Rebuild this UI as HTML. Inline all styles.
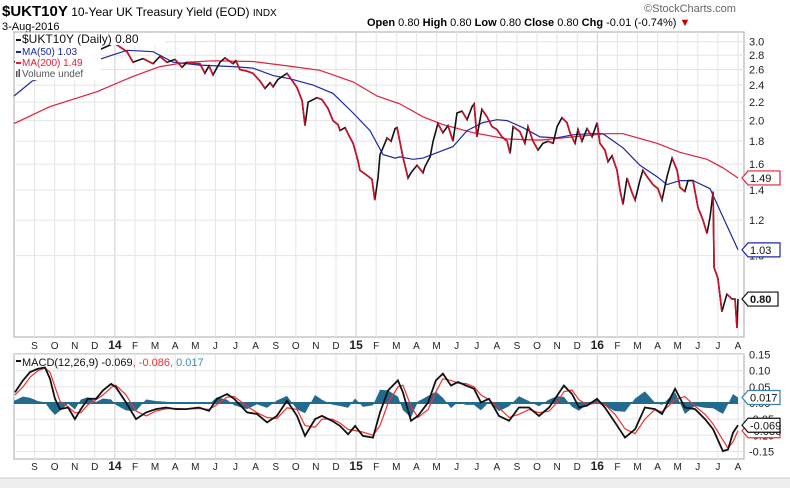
<!DOCTYPE html>
<html><head><meta charset="utf-8"><style>
body{margin:0;background:#fff;}
svg{display:block;font-family:"Liberation Sans",sans-serif;}
</style></head><body>
<svg id="chart" width="790" height="488" viewBox="0 0 790 488" xmlns="http://www.w3.org/2000/svg">
<rect x="0" y="0" width="790" height="488" fill="#fff"/>
<text x="2" y="16" font-size="12"><tspan font-weight="bold" font-size="15">$UKT10Y</tspan> 10-Year UK Treasury Yield (EOD) <tspan font-size="10">INDX</tspan></text>
<text x="2" y="30" font-size="11">3-Aug-2016</text>
<text x="644" y="12" font-size="11" fill="#666">©StockCharts.com</text>
<text x="367" y="26" font-size="11"><tspan font-weight="bold">Open</tspan> 0.80 <tspan font-weight="bold">High</tspan> 0.80 <tspan font-weight="bold">Low</tspan> 0.80 <tspan font-weight="bold">Close</tspan> 0.80 <tspan font-weight="bold">Chg</tspan> -0.01 (-0.74%) <tspan fill="#c00">▼</tspan></text>
<g id="main"></g>
<g id="macd"></g>
<rect x="0" y="478" width="790" height="10" fill="#eee"/>
<line x1="0" y1="478" x2="790" y2="478" stroke="#ccc"/>
</svg>
<script>
const priceT=[-1.0,-0.6,-0.2,0.2,0.6,1.0,1.4,1.8,2.2,2.6,3.01,3.76,3.96,4.6,4.9,5.4,5.9,6.24,6.59,6.99,7.34,7.59,8.23,8.48,8.68,8.88,9.23,9.48,9.88,10.02,10.22,10.57,10.87,11.22,11.47,11.72,11.87,12.11,12.56,12.81,13.06,13.31,13.46,13.61,14.05,14.3,14.6,14.85,15.1,15.2,15.45,15.65,15.85,16.09,16.19,16.54,16.79,16.93,17.09,17.19,17.34,17.54,17.74,17.94,18.04,18.33,18.58,18.73,19.03,19.33,19.43,19.68,19.83,20.07,20.32,20.57,20.82,21.02,21.27,21.52,21.77,21.87,22.01,22.26,22.51,22.76,23.01,23.26,23.51,23.66,23.81,24.15,24.4,24.55,24.8,25.05,25.3,25.55,25.8,26.0,26.24,26.49,26.64,26.89,27.04,27.24,27.49,27.74,27.99,28.13,28.38,28.53,28.73,28.98,29.13,29.28,29.48,29.73,29.88,30.12,30.27,30.52,30.77,31.02,31.22,31.47,31.72,31.97,32.11,32.36,32.51,32.76,33.01,33.26,33.46,33.61,33.76,33.81,34.0,34.2,34.45,34.7,34.85,34.95,35.0];
const priceV=[2.7,2.8,2.9,2.95,2.8,2.7,2.65,2.75,2.8,2.85,2.85,2.95,2.98,2.85,2.7,2.75,2.68,2.78,2.7,2.74,2.63,2.7,2.68,2.55,2.65,2.53,2.7,2.76,2.68,2.72,2.6,2.58,2.55,2.45,2.36,2.43,2.38,2.47,2.55,2.46,2.37,2.22,1.95,2.2,2.25,2.23,2.13,2.0,1.96,1.9,1.93,1.85,1.78,1.63,1.55,1.51,1.48,1.33,1.49,1.68,1.74,1.83,1.8,1.92,1.93,1.66,1.49,1.53,1.59,1.53,1.58,1.66,1.8,1.97,1.88,1.95,1.8,2.08,2.1,2.01,2.15,2.18,1.84,2.12,2.04,1.94,1.91,1.84,1.8,1.69,1.94,1.89,1.78,1.94,1.8,1.72,1.78,1.8,1.78,1.94,2.03,1.98,1.88,1.78,1.91,1.8,1.92,1.84,1.98,1.78,1.72,1.62,1.67,1.55,1.4,1.3,1.49,1.38,1.33,1.47,1.55,1.49,1.44,1.41,1.33,1.5,1.65,1.55,1.42,1.39,1.47,1.47,1.28,1.2,1.12,1.22,1.39,0.94,0.89,0.75,0.82,0.8,0.8,0.69,0.8];
const ma50T=[-1.02,-0.12,3.12,4.6,5.9,6.89,8.23,9.88,10.87,11.87,12.71,13.86,14.85,15.85,16.69,17.34,17.94,18.18,18.83,19.33,20.82,21.52,22.31,23.01,23.51,24.3,25.15,25.99,26.79,27.64,28.28,29.28,30.12,30.97,31.47,32.11,32.76,33.61,34.25,35.0];
const ma50V=[2.27,2.45,2.73,2.87,2.85,2.7,2.66,2.64,2.62,2.52,2.48,2.4,2.3,2.08,1.9,1.68,1.65,1.66,1.64,1.65,1.75,1.9,1.98,2.01,2.0,1.93,1.84,1.83,1.86,1.87,1.87,1.74,1.59,1.5,1.44,1.47,1.47,1.41,1.22,1.03];
const ma200T=[-1.02,0.77,3.11,4.9,6.24,7.59,8.88,10.87,12.86,14.2,15.85,17.04,18.18,19.33,20.32,21.82,23.51,25.15,26.79,28.48,29.28,30.97,32.11,33.46,34.25,35.0];
const ma200V=[1.97,2.15,2.32,2.51,2.64,2.7,2.72,2.71,2.64,2.59,2.44,2.27,2.18,2.04,1.96,1.88,1.82,1.81,1.84,1.87,1.87,1.78,1.7,1.64,1.57,1.49];
const priceTicks=[3.0,2.8,2.6,2.4,2.2,2.0,1.8,1.6,1.4,1.2,1.0];
const monthLabels=["S","O","N","D","14","F","M","A","M","J","J","A","S","O","N","D","15","F","M","A","M","J","J","A","S","O","N","D","16","F","M","A","M","J","J","A"];
const macdT=[-0.97,-0.57,-0.22,0.17,0.52,0.77,1.02,1.27,1.67,2.01,2.31,2.66,3.06,3.41,3.81,4.05,4.55,5.05,5.55,6.04,6.54,7.04,7.54,8.18,8.68,9.08,9.58,9.93,10.57,11.07,11.57,12.06,12.56,13.06,13.46,13.96,14.3,14.8,15.2,15.6,15.95,16.34,16.84,17.19,17.59,18.08,18.33,18.73,19.08,19.58,19.97,20.32,20.72,21.07,21.47,21.87,22.21,22.61,23.11,23.61,24.1,24.6,25.1,25.6,26.0,26.34,26.74,27.09,27.49,27.99,28.38,28.88,29.38,29.88,30.37,30.87,31.22,31.87,32.36,32.86,33.36,33.76,34.25,34.5,34.75,35.0];
const macdV=[0.033,0.07,0.096,0.106,0.11,0.075,0.013,-0.019,-0.014,-0.05,-0.019,0.013,0.013,0.039,0.059,0.049,0.002,-0.05,-0.029,-0.019,-0.014,-0.019,-0.019,-0.014,-0.024,0.013,0.028,0.013,-0.029,-0.034,-0.06,-0.04,0.007,-0.04,-0.102,-0.05,-0.04,-0.055,-0.071,-0.097,-0.071,-0.102,-0.107,-0.029,0.039,0.07,0.033,-0.055,-0.04,0.002,0.07,0.091,0.054,0.065,0.054,0.044,0.002,0.013,-0.04,-0.055,-0.014,-0.014,-0.04,-0.014,0.023,0.054,0.028,-0.014,-0.008,0.013,-0.014,-0.06,-0.107,-0.081,-0.014,-0.019,-0.034,0.044,-0.014,-0.019,-0.05,-0.081,-0.149,-0.144,-0.092,-0.069];
const signalV=[0.025,0.05,0.08,0.1,0.108,0.095,0.05,0.005,-0.012,-0.03,-0.03,-0.005,0.01,0.025,0.048,0.055,0.025,-0.025,-0.04,-0.025,-0.018,-0.017,-0.019,-0.017,-0.02,-0.005,0.018,0.02,-0.01,-0.03,-0.045,-0.048,-0.015,-0.02,-0.07,-0.075,-0.05,-0.05,-0.062,-0.082,-0.085,-0.09,-0.1,-0.07,0.0,0.05,0.055,-0.01,-0.045,-0.02,0.035,0.075,0.07,0.062,0.06,0.05,0.025,0.01,-0.015,-0.045,-0.035,-0.02,-0.03,-0.025,0.002,0.035,0.04,0.01,-0.005,0.0,-0.005,-0.035,-0.08,-0.095,-0.05,-0.02,-0.028,0.01,0.02,-0.01,-0.035,-0.065,-0.115,-0.14,-0.12,-0.086];
const macdTicks=[0.15,0.10,0.05,0.00,-0.05,-0.10,-0.15];

const NS="http://www.w3.org/2000/svg";
const L=14,R=744,T1=32,B1=337,T2=354,B2=459;
const xS=t=>34.5+t*20.1;
const yP=v=>41.7+(Math.log(3)-Math.log(v))*194.7;
const yM=v=>403-v*323;
function mk(tag,attrs,parent){const e=document.createElementNS(NS,tag);for(const k in attrs)e.setAttribute(k,attrs[k]);parent.appendChild(e);return e;}
const main=document.getElementById('main'),mg=document.getElementById('macd');

function frame(g,top,bot,ticks,yf,fmt,name){
  let r=mk('rect',{x:L,y:top,width:R-L,height:bot-top,fill:'#fff',stroke:'#aaa'},g);
  
  
  for(let i=0;i<monthLabels.length;i++){const x=xS(i);
    let gl=mk('line',{x1:x,x2:x,y1:top,y2:bot,stroke:monthLabels[i].length>1?'#cfcfcf':'#e4e4e4'},g);
    
    }
  ticks.forEach(v=>{const y=yf(v);
    let gl=mk('line',{x1:L,x2:R,y1:y,y2:y,stroke:'#e4e4e4'},g);
    
    
    let tx=mk('text',{x:R+5,y:y+4,'font-size':11,fill:'#222'},g);tx.textContent=fmt(v);
    
    });
}
function monthAxis(g,y){
  monthLabels.forEach((m,i)=>{const t=mk('text',{x:xS(i),y:y,'font-size':m.length>1?12:10,'font-weight':m.length>1?'bold':'normal','text-anchor':'middle',fill:'#222'},g);t.textContent=m;
    
    });
}
function pathOf(ts,vs,yf){return ts.map((t,i)=>(i?'L':'M')+xS(t).toFixed(1)+' '+yf(vs[i]).toFixed(1)).join(' ');}

frame(main,T1,B1,priceTicks,yP,v=>v.toFixed(1),'price');
monthAxis(main,349);
let p;
p=mk('path',{d:pathOf(ma200T,ma200V,yP),fill:'none',stroke:'#e0203a','stroke-width':1.2},main);


p=mk('path',{d:pathOf(ma50T,ma50V,yP),fill:'none',stroke:'#1a2aa0','stroke-width':1.2},main);


p=mk('path',{d:pathOf(priceT,priceV,yP),fill:'none',stroke:'#111','stroke-width':1.6},main);


for(let i=1;i<priceT.length;i++){if(priceV[i]<priceV[i-1]){
  let s=mk('line',{x1:xS(priceT[i-1]),y1:yP(priceV[i-1]),x2:xS(priceT[i]),y2:yP(priceV[i]),stroke:'#d0102a','stroke-width':1.6},main);
  
  }}
let lg=mk('g',{},main);


mk('rect',{x:15,y:33,width:86,height:47,fill:'#fff'},lg);
mk('rect',{x:15,y:33,width:150,height:12,fill:'#fff'},lg);
[['$UKT10Y (Daily) 0.80','#111',43,12],['MA(50) 1.03','#1a2aa0',55,10],['MA(200) 1.49','#e0203a',66,10],['Volume undef','#555',77,10]].forEach((a,i)=>{
  let t=mk('text',{x:22,y:a[2],'font-size':a[3],fill:a[1]},lg);t.textContent=a[0];
  
  
  if(i<3)mk('rect',{x:16,y:a[2]-4,width:5,height:2,fill:a[1]},lg);
  else{mk('rect',{x:16,y:a[2]-6,width:1.5,height:6,fill:'#555'},lg);mk('rect',{x:18.5,y:a[2]-8,width:1.5,height:8,fill:'#555'},lg);}
});
function tag(g,y,txt,col,bold,name){
  let gg=mk('g',{},g);
  
  
  const x=R-2,w=bold?36:38;
  mk('path',{d:`M${x} ${y} L${x+6} ${y-7} L${x+w} ${y-7} L${x+w} ${y+7} L${x+6} ${y+7} Z`,fill:'#fff',stroke:col,'stroke-width':1.2},gg);
  let t=mk('text',{x:x+8,y:y+4,'font-size':11,'font-weight':bold?'bold':'normal',fill:'#111'},gg);t.textContent=txt;
}
tag(main,yP(ma200V[ma200V.length-1]),ma200V[ma200V.length-1].toFixed(2),'#e0203a',false,'ma200-value-tag');
tag(main,yP(ma50V[ma50V.length-1]),ma50V[ma50V.length-1].toFixed(2),'#1a2aa0',false,'ma50-value-tag');
tag(main,yP(priceV[priceV.length-1]),priceV[priceV.length-1].toFixed(2),'#111',true,'price-value-tag');

frame(mg,T2,B2,macdTicks,yM,v=>v.toFixed(2),'macd');
monthAxis(mg,470);
function interp(ts,vs,t){if(t<=ts[0])return vs[0];for(let i=1;i<ts.length;i++){if(t<=ts[i]){const f=(t-ts[i-1])/(ts[i]-ts[i-1]);return vs[i-1]+f*(vs[i]-vs[i-1]);}}return vs[vs.length-1];}
let hd='M'+L+' '+yM(0);
for(let x=L;x<=xS(macdT[macdT.length-1]);x++){const t=(x-34.5)/20.1;const h=interp(macdT,macdV,t)-interp(macdT,signalV,t);hd+=' L'+x+' '+yM(h).toFixed(1);}
hd+=' L'+xS(macdT[macdT.length-1]).toFixed(1)+' '+yM(0)+' Z';
p=mk('path',{d:hd,fill:'#236b8e'},mg);


p=mk('line',{x1:L,x2:xS(macdT[macdT.length-1]),y1:yM(0),y2:yM(0),stroke:'#236b8e','stroke-width':2},mg);


p=mk('path',{d:pathOf(macdT,signalV,yM),fill:'none',stroke:'#f03030','stroke-width':1.2},mg);


p=mk('path',{d:pathOf(macdT,macdV,yM),fill:'none',stroke:'#111','stroke-width':1.8},mg);


let ml=mk('text',{x:22,y:366,'font-size':11,fill:'#111'},mg);


ml.innerHTML='MACD(12,26,9) -0.069<tspan fill="#f03030">, -0.086</tspan><tspan fill="#3a8fc0">, 0.017</tspan>';
mk('rect',{x:16,y:360,width:5,height:2,fill:'#111'},mg);
const lastH=macdV[macdV.length-1]-signalV[signalV.length-1];
tag(mg,yM(signalV[signalV.length-1]),signalV[signalV.length-1].toFixed(3),'#f03030',false,'signal-value-tag');
tag(mg,yM(macdV[macdV.length-1]),macdV[macdV.length-1].toFixed(3),'#111',false,'macd-value-tag');
tag(mg,yM(lastH),lastH.toFixed(3),'#3a7fb0',false,'histogram-value-tag');
</script>
</body></html>
